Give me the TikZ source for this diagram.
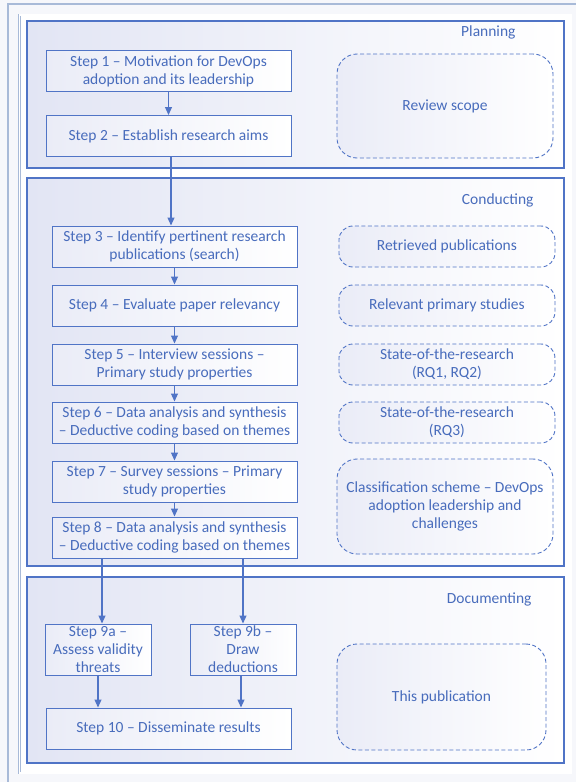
\documentclass[tikz,border=0pt]{standalone}
\usepackage{fontspec}
\setmainfont{Carlito}
\usetikzlibrary{arrows.meta,positioning}
\definecolor{lineblue}{RGB}{80,116,198}
\definecolor{txtblue}{RGB}{72,108,188}
\definecolor{frameblue}{RGB}{168,186,216}
\definecolor{paneltint}{RGB}{226,229,244}
\definecolor{boxtint}{RGB}{234,236,247}
\definecolor{pagebg}{RGB}{246,247,251}

\begin{document}
\begin{tikzpicture}[x=1pt, y=-1pt,
    font=\fontsize{15.5}{18}\selectfont,
    node distance=17pt and 41pt,
    panel/.style={draw=lineblue, line width=1.1pt, left color=paneltint, right color=white},
    stepbox/.style={draw=lineblue, line width=1pt, left color=boxtint, right color=white, text=txtblue, align=center, minimum width=245pt, minimum height=41pt, inner sep=1pt},
    outbox/.style={draw=lineblue, line width=0.9pt, dash pattern=on 4pt off 2.5pt, rounded corners=14pt, left color=boxtint, right color=white, text=txtblue, align=center, minimum width=216pt, minimum height=41pt, inner sep=1pt},
    phase/.style={text=txtblue, anchor=east},
    arr/.style={-{Triangle[length=8pt, width=7pt]}, draw=lineblue, line width=1.1pt},
  ]
    \useasboundingbox (0,0) rectangle (576,782);
    \fill[pagebg] (0,0) rectangle (576,782);
    \draw[frameblue, line width=1.2pt] (8,782) -- (8,4) -- (576,4);
    \draw[frameblue, line width=0.6pt, double=white, double distance=1.2pt, fill=white] (19.5,15) rectangle (571,773);

    % phases
    \path[panel] (27,21) rectangle (564,168);
    \path[panel] (27,178) rectangle (564,566);
    \path[panel] (27,577) rectangle (564,763);
    \node[phase] (plan) at (519,32) {Planning};
    \node[phase] (cond) at (537,200) {Conducting};
    \node[phase] (docu) at (535,599) {Documenting};

    % planning
    \node[stepbox] (s1) at (168.5,71) {Step 1 -- Motivation for DevOps\\adoption and its leadership};
    \node[stepbox, below=23pt of s1] (s2) {Step 2 -- Establish research aims};
    \node[outbox, rounded corners=20pt, minimum height=104pt] (scope) at (445,106) {Review scope};

    % conducting
    \node[stepbox] (s3) at (174.5,246.5) {Step 3 -- Identify pertinent research\\publications (search)};
    \node[stepbox, below=of s3] (s4) {Step 4 -- Evaluate paper relevancy};
    \node[stepbox, below=of s4] (s5) {Step 5 -- Interview sessions --\\Primary study properties};
    \node[stepbox, below=16pt of s5] (s6) {Step 6 -- Data analysis and synthesis\\-- Deductive coding based on themes};
    \node[stepbox, below=of s6] (s7) {Step 7 -- Survey sessions -- Primary\\study properties};
    \node[stepbox, below=14pt of s7] (s8) {Step 8 -- Data analysis and synthesis\\-- Deductive coding based on themes};
    \node[outbox, right=41pt of s3] (found) {Retrieved publications};
    \node[outbox, right=41pt of s4] (kept) {Relevant primary studies};
    \node[outbox, right=41pt of s5] (sota) {State-of-the-research\\(RQ1, RQ2)};
    \node[outbox, right=41pt of s6] (sotb) {State-of-the-research\\(RQ3)};
    \node[outbox, rounded corners=20pt, minimum height=95pt] (scheme) at (445,506.5) {Classification scheme -- DevOps\\adoption leadership and\\challenges};

    % documenting
    \node[stepbox, minimum width=106pt, minimum height=51pt] (s9a) at (98,649.5) {Step 9a --\\Assess validity\\threats};
    \node[stepbox, minimum width=106pt, minimum height=51pt] (s9b) at (243,649.5) {Step 9b --\\Draw\\deductions};
    \node[stepbox] (s10) at (168.5,728.5) {Step 10 -- Disseminate results};
    \node[outbox, rounded corners=20pt, minimum width=209pt, minimum height=106pt] (pub) at (441.5,697) {This publication};

    \draw[arr] (s1) -- (s2);
    \draw[arr] ([xshift=2.5pt]s2.south) -- ([xshift=2.5pt]s2.south |- s3.north);
    \draw[arr] (s3) -- (s4);
    \draw[arr] (s4) -- (s5);
    \draw[arr] (s5) -- (s6);
    \draw[arr] (s6) -- (s7);
    \draw[arr] (s7) -- (s8);
    \draw[arr] ([xshift=4pt]s9a.north |- s8.south) -- ([xshift=4pt]s9a.north);
    \draw[arr] (s9b.north |- s8.south) -- (s9b);
    \draw[arr] (s9a) -- (s9a.south |- s10.north);
    \draw[arr] ([xshift=-2pt]s9b.south) -- ([xshift=-2pt]s9b.south |- s10.north);
  \end{tikzpicture}
\end{document}
